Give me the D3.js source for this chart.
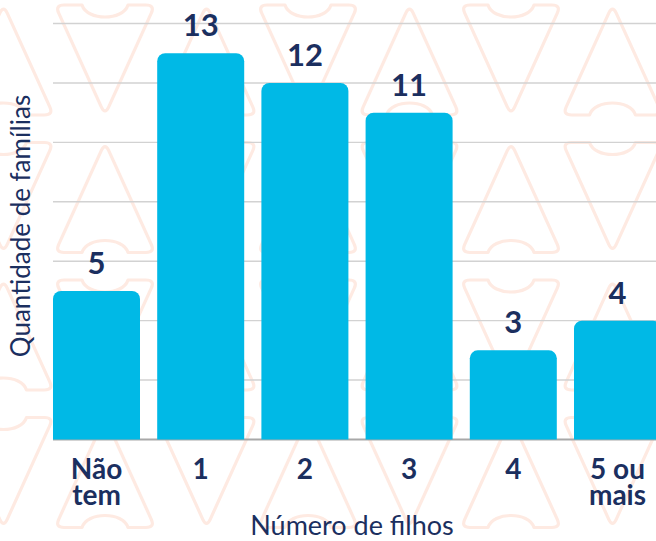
<!DOCTYPE html>
<html lang="pt">
<head>
<meta charset="utf-8">
<script src="https://cdn.jsdelivr.net/npm/d3@7.9.0/dist/d3.min.js"></script>
<style>
  html, body { margin: 0; padding: 0; background: #fff; }
  svg { display: block; font-family: Lato, 'Open Sans', sans-serif; }
</style>
</head>
<body>
<div id="chart"></div>
<script>
const categories = ['Não tem', '1', '2', '3', '4', '5 ou mais'];
const tickLines = [['Não', 'tem'], ['1'], ['2'], ['3'], ['4'], ['5 ou', 'mais']];
const values = [5, 13, 12, 11, 3, 4];
const yMax = 14;
const xTitle = 'Número de filhos';
const yTitle = 'Quantidade de famílias';

const width = 656;
const height = 541;
const navy = '#1b2f5f';
const barColor = '#00b9e6';

const svg = d3.select('#chart')
  .append('svg')
  .attr('width', width)
  .attr('height', height);

// background watermark: rows of rounded V / A outlines
function vShape(w, h, r) {
  const m = w / 2;
  const len = Math.hypot(m, h);
  const ux = m / len, uy = h / len;
  return [
    `M${r},0`,
    `L${m - 23},0`,
    `C${m - 18},16 ${m + 18},16 ${m + 23},0`,
    `L${w - r},0`,
    `Q${w},0 ${w - ux * r},${uy * r}`,
    `L${m + ux * r},${h - uy * r}`,
    `Q${m},${h} ${m - ux * r},${h - uy * r}`,
    `L${ux * r},${uy * r}`,
    `Q0,0 ${r},0Z`
  ].join('');
}

const mark = { w: 100, h: 110, stepX: 101.5, stepY: 137.5, x0: 55, y0: 5 };
const marks = [];
for (let r = 0; r < 4; r++) {
  for (let c = -1; c < 7; c++) {
    marks.push({ x: mark.x0 + c * mark.stepX, y: mark.y0 + r * mark.stepY, down: (r + c) % 2 === 0 });
  }
}
const shapePath = vShape(mark.w, mark.h, 9);
svg.append('g')
  .attr('class', 'watermark')
  .selectAll('path')
  .data(marks)
  .join('path')
  .attr('d', shapePath)
  .attr('transform', d => d.down
    ? `translate(${d.x},${d.y})`
    : `translate(${d.x},${d.y + mark.h}) scale(1,-1)`)
  .attr('fill', 'none')
  .attr('stroke', '#feeae2')
  .attr('stroke-width', 3.2)
  .attr('stroke-linejoin', 'round');

const xScale = d3.scaleBand()
  .domain(categories)
  .range([44.4, 669.6])
  .paddingInner(0.165)
  .paddingOuter(0.0825);

const yScale = d3.scaleLinear()
  .domain([0, yMax])
  .range([439.5, 23.5]);

const gridLeft = xScale(categories[0]);

// gridlines
svg.append('g')
  .attr('class', 'gridlines')
  .selectAll('line')
  .data(yScale.ticks(7).filter(t => t > 0))
  .join('line')
  .attr('x1', gridLeft)
  .attr('x2', width)
  .attr('y1', d => yScale(d))
  .attr('y2', d => yScale(d))
  .attr('stroke', '#d2d2d2')
  .attr('stroke-width', 1.4);

svg.append('line')
  .attr('x1', gridLeft)
  .attr('x2', width)
  .attr('y1', yScale(0))
  .attr('y2', yScale(0))
  .attr('stroke', '#a8a8a8')
  .attr('stroke-width', 2);

function barPath(x, y, w, h, r) {
  return `M${x},${y + h}V${y + r}A${r},${r} 0 0 1 ${x + r},${y}H${x + w - r}A${r},${r} 0 0 1 ${x + w},${y + r}V${y + h}Z`;
}

const rows = categories.map((c, i) => ({ cat: c, value: values[i], lines: tickLines[i] }));

svg.append('g')
  .attr('class', 'bars')
  .selectAll('path')
  .data(rows)
  .join('path')
  .attr('d', d => barPath(xScale(d.cat), yScale(d.value), xScale.bandwidth(), yScale(0) - yScale(d.value), 8))
  .attr('fill', barColor);

// value labels
svg.append('g')
  .selectAll('text')
  .data(rows)
  .join('text')
  .attr('x', d => xScale(d.cat) + xScale.bandwidth() / 2)
  .attr('y', d => yScale(d.value) - 17)
  .attr('text-anchor', 'middle')
  .attr('font-size', 31)
  .attr('font-weight', 700)
  .attr('fill', navy)
  .text(d => d.value);

// category labels
const ticks = svg.append('g')
  .selectAll('text')
  .data(rows)
  .join('text')
  .attr('x', d => xScale(d.cat) + xScale.bandwidth() / 2)
  .attr('y', 479)
  .attr('text-anchor', 'middle')
  .attr('font-size', 28)
  .attr('font-weight', 700)
  .attr('fill', navy);

ticks.selectAll('tspan')
  .data(d => d.lines.map(l => ({ l, x: xScale(d.cat) + xScale.bandwidth() / 2 })))
  .join('tspan')
  .attr('x', d => d.x)
  .attr('dy', (d, i) => i === 0 ? 0 : 26)
  .text(d => d.l);

// axis titles
svg.append('text')
  .attr('x', 352)
  .attr('y', 535)
  .attr('text-anchor', 'middle')
  .attr('font-size', 27)
  .attr('fill', navy)
  .text(xTitle);

svg.append('text')
  .attr('transform', 'translate(30,226) rotate(-90)')
  .attr('text-anchor', 'middle')
  .attr('font-size', 26)
  .attr('fill', navy)
  .text(yTitle);
</script>
</body>
</html>
